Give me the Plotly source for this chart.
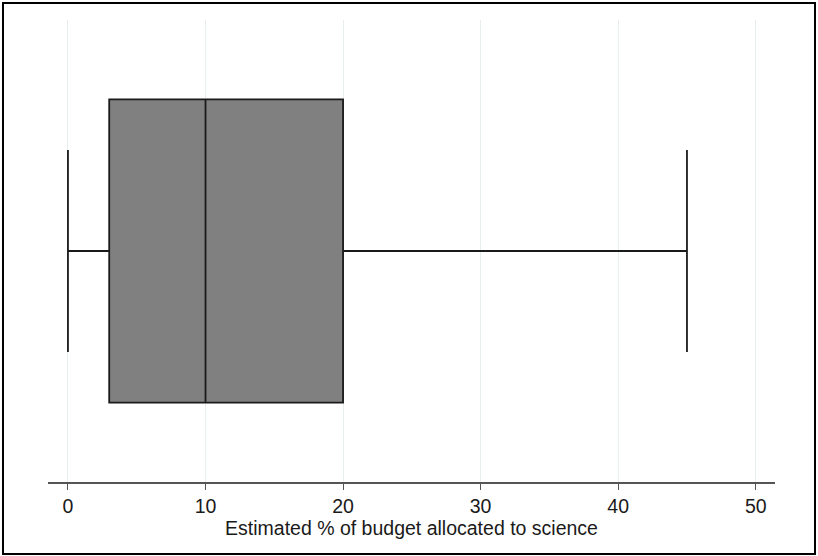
import plotly.graph_objects as go

# Box statistics (Estimated % of budget allocated to science)
lower_fence = [0]
q1 = [3]
median = [10]
q3 = [20]
upper_fence = [45]
x_ticks = [0, 10, 20, 30, 40, 50]
x_title = "Estimated % of budget allocated to science"

fig = go.Figure()
fig.add_trace(go.Box(
    orientation="h",
    y=[0],
    q1=q1, median=median, q3=q3,
    lowerfence=lower_fence, upperfence=upper_fence,
    width=1.312,
    whiskerwidth=0.667,
    fillcolor="#808080",
    line=dict(color="#1a1a1a", width=1.8),
    boxpoints=False,
    showlegend=False,
    hoverinfo="x",
))

fig.update_layout(
    width=818, height=556,
    margin=dict(l=48, r=43, t=20, b=74),
    paper_bgcolor="white",
    plot_bgcolor="white",
    font=dict(family="Liberation Sans, Arial, sans-serif", size=19, color="#1a1a1a"),
    xaxis=dict(
        range=[-1.45, 51.4],
        tickvals=x_ticks,
        ticktext=[str(t) for t in x_ticks],
        showgrid=True, gridcolor="#e6eeee", gridwidth=1.2,
        zeroline=False,
        showline=True, linecolor="#555555", linewidth=2,
        ticks="outside", ticklen=6, tickcolor="#555555", tickwidth=1.2,
        title=dict(text=x_title, standoff=5, font=dict(size=19.5)),
        tickfont=dict(size=19.5),
    ),
    yaxis=dict(
        range=[-1, 1],
        showgrid=False, zeroline=False, showline=False,
        showticklabels=False, ticks="",
    ),
    shapes=[dict(
        type="rect", xref="paper", yref="paper",
        x0=(3 - 48) / 727, x1=(815 - 48) / 727,
        y0=(482 - 554) / 462, y1=(482 - 3) / 462,
        line=dict(color="black", width=2), fillcolor="rgba(0,0,0,0)",
        layer="above",
    )],
)

fig.write_html(
    "out.html",
    config={"displayModeBar": False},
    post_script="document.body.style.margin='0';document.body.style.overflow='hidden';",
)
